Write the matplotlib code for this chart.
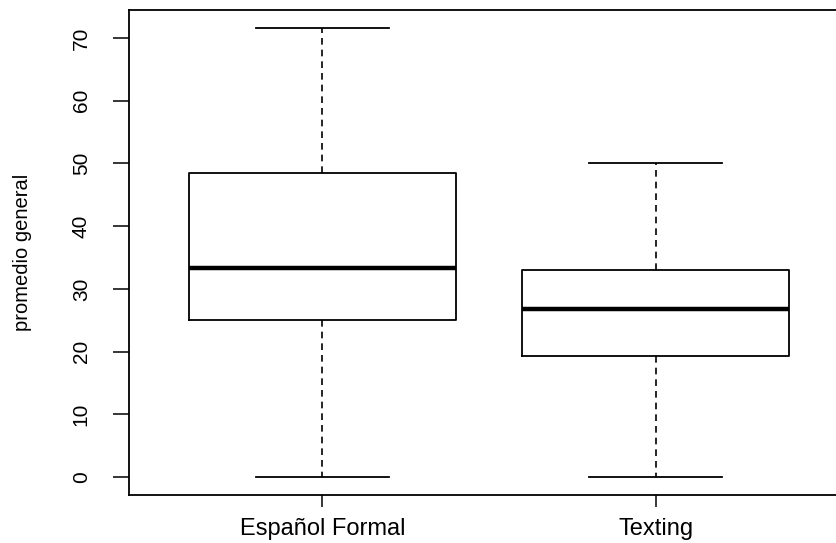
import matplotlib
matplotlib.use("Agg")
import matplotlib.pyplot as plt

# boxplot summary values
groups = ["Español Formal", "Texting"]
whisker_low = [0.0, 0.0]
q1 = [25.1, 19.3]
median = [33.4, 26.8]
q3 = [48.4, 33.0]
whisker_high = [71.6, 50.0]
yticks = [0, 10, 20, 30, 40, 50, 60, 70]

plt.rcParams['font.family'] = ['Liberation Sans', 'DejaVu Sans']

stats = []
for i in range(len(groups)):
	stats.append({'label': groups[i], 'whislo': whisker_low[i], 'q1': q1[i],
		'med': median[i], 'q3': q3[i], 'whishi': whisker_high[i], 'fliers': []})

fig = plt.figure(figsize=(8.36, 5.43), dpi=100)
ax = fig.add_axes([0.1543, 0.0884, 0.8613, 0.8932])

ax.bxp(stats, positions=[1, 2], widths=0.8, capwidths=0.4, showfliers=False,
	boxprops=dict(color='black', linewidth=1.3),
	medianprops=dict(color='black', linewidth=3.2, solid_capstyle='butt'),
	whiskerprops=dict(color='black', linewidth=1.2, linestyle=(0, (4, 3))),
	capprops=dict(color='black', linewidth=1.3))

ax.set_xlim(0.42, 2.58)
ax.set_ylim(-2.864, 74.464)
ax.set_yticks(yticks)
ax.set_yticklabels([str(v) for v in yticks], rotation=90, va='center', fontsize=15)
ax.set_xticks([1, 2])
ax.set_xticklabels(groups, fontsize=17)
ax.tick_params(axis='y', length=11.5, width=1.1, pad=16)
ax.tick_params(axis='x', length=8.6, width=1.1, pad=8)
for s in ax.spines.values():
	s.set_linewidth(1.3)

fig.text(23 / 836, 0.535, "promedio general", rotation=90, ha='center', va='center', fontsize=14.5)

fig.savefig("out.png", dpi=100)
